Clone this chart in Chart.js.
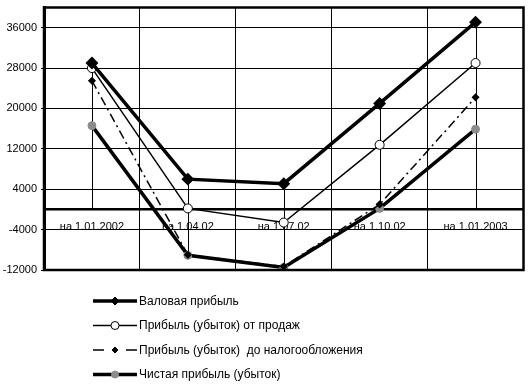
<!DOCTYPE html>
<html>
<head>
<meta charset="utf-8">
<script src="https://cdn.jsdelivr.net/npm/chart.js@4/dist/chart.umd.min.js"></script>
<style>
  body { margin: 0; background: #fff; }
  #wrap { width: 531px; height: 390px; }
</style>
</head>
<body>
<div id="wrap"><canvas id="myChart" width="531" height="390"></canvas></div>
<script>
const labels = ['на 1.01.2002', 'на 1.04.02', 'на 1.07.02', 'на 1.10.02', 'на 1.01.2003'];
const gross  = [29000, 6000, 5100, 21000, 37100];
const sales  = [28000, 200, -2600, 12800, 29000];
const preTax = [25500, -9000, -11300, 1000, 22200];
const net    = [16600, -9100, -11500, 200, 15900];
const yTicks = [-12000, -4000, 4000, 12000, 20000, 28000, 36000];

const FONT = 'Liberation Sans, Arial, sans-serif';

// drop lines from each point to the category axis
const dropLines = {
  id: 'dropLines',
  beforeDatasetsDraw(chart) {
    const { ctx, scales: { x, y } } = chart;
    ctx.save();
    ctx.strokeStyle = '#000';
    ctx.lineWidth = 1;
    labels.forEach((l, i) => {
      const vals = chart.data.datasets.map(d => d.data[i]);
      const hi = Math.max(0, ...vals), lo = Math.min(0, ...vals);
      const px = Math.round(x.getPixelForValue(i)) + 0.5;
      ctx.beginPath();
      ctx.moveTo(px, y.getPixelForValue(hi));
      ctx.lineTo(px, y.getPixelForValue(lo));
      ctx.stroke();
    });
    ctx.restore();
  }
};

// frame + legend under the plot
const frameLegend = {
  id: 'frameLegend',
  afterDraw(chart) {
    const { ctx, chartArea: a } = chart;
    ctx.save();
    ctx.strokeStyle = '#000';
    ctx.lineWidth = 2.5;
    ctx.strokeRect(a.left, a.top, a.right - a.left, a.bottom - a.top);

    chart.data.datasets.forEach((d, i) => {
      const cy = 301 + i * 24.5;
      ctx.strokeStyle = '#000';
      ctx.lineWidth = d.borderWidth;
      ctx.setLineDash(d.legendDash || []);
      ctx.beginPath();
      ctx.moveTo(93, cy);
      ctx.lineTo(137, cy);
      ctx.stroke();
      ctx.setLineDash([]);
      ctx.lineWidth = 1;
      ctx.fillStyle = d.pointBackgroundColor;
      ctx.strokeStyle = d.pointBorderColor;
      const r = d.legendR;
      ctx.beginPath();
      if (d.pointStyle === 'rectRot') {
        ctx.moveTo(115, cy - r); ctx.lineTo(115 + r, cy);
        ctx.lineTo(115, cy + r); ctx.lineTo(115 - r, cy);
        ctx.closePath();
      } else {
        ctx.arc(115, cy, r, 0, Math.PI * 2);
      }
      ctx.fill();
      ctx.stroke();
      ctx.fillStyle = '#000';
      ctx.font = '12px ' + FONT;
      ctx.textBaseline = 'middle';
      ctx.textAlign = 'left';
      ctx.fillText(d.label, 139, cy + 0.5);
    });
    ctx.restore();
  }
};

const ctx = document.getElementById('myChart').getContext('2d');
new Chart(ctx, {
  type: 'line',
  data: {
    labels: labels,
    datasets: [
      {
        label: 'Валовая прибыль',
        data: gross,
        borderColor: '#000', borderWidth: 3.5,
        pointStyle: 'rectRot', pointRadius: 4, legendR: 4,
        pointBackgroundColor: '#000', pointBorderColor: '#000',
        tension: 0
      },
      {
        label: 'Прибыль (убыток) от продаж',
        data: sales,
        borderColor: '#000', borderWidth: 1.5,
        pointStyle: 'circle', pointRadius: 4.5, pointBorderWidth: 1, legendR: 4,
        pointBackgroundColor: '#fff', pointBorderColor: '#000',
        tension: 0
      },
      {
        label: 'Прибыль (убыток)  до налогообложения',
        data: preTax,
        borderColor: '#000', borderWidth: 1.5,
        borderDash: [9, 4, 2, 4],
        legendDash: [11, 22],
        pointStyle: 'rectRot', pointRadius: 3, legendR: 3,
        pointBackgroundColor: '#000', pointBorderColor: '#000',
        tension: 0
      },
      {
        label: 'Чистая прибыль (убыток)',
        data: net,
        borderColor: '#000', borderWidth: 3.5,
        pointStyle: 'circle', pointRadius: 4, pointBorderWidth: 1, legendR: 3.5,
        pointBackgroundColor: '#8c8c8c', pointBorderColor: '#8c8c8c',
        tension: 0
      }
    ]
  },
  options: {
    responsive: false,
    animation: false,
    layout: { padding: { top: 7, right: 6, bottom: 120, left: 0 } },
    plugins: { legend: { display: false }, tooltip: { enabled: false } },
    scales: {
      x: {
        position: { y: 0 },
        offset: true,
        grid: { offset: true, color: '#000', lineWidth: 1, tickLength: 4, tickColor: '#000' },
        border: { color: '#000', width: 2.5 },
        ticks: { color: '#000', font: { family: FONT, size: 11 }, padding: 7, maxRotation: 0, autoSkip: false }
      },
      y: {
        min: -12000,
        max: 40000,
        afterBuildTicks: s => { s.ticks = yTicks.map(v => ({ value: v })); },
        afterFit: s => { s.width = 44; s.paddingTop = 0; s.paddingBottom = 0; },
        grid: { color: '#000', lineWidth: 1, tickLength: 3, tickColor: '#000' },
        border: { color: '#000', width: 3 },
        ticks: { color: '#000', font: { family: FONT, size: 11 }, padding: 4, callback: v => String(v) }
      }
    }
  },
  plugins: [dropLines, frameLegend]
});
</script>
</body>
</html>
